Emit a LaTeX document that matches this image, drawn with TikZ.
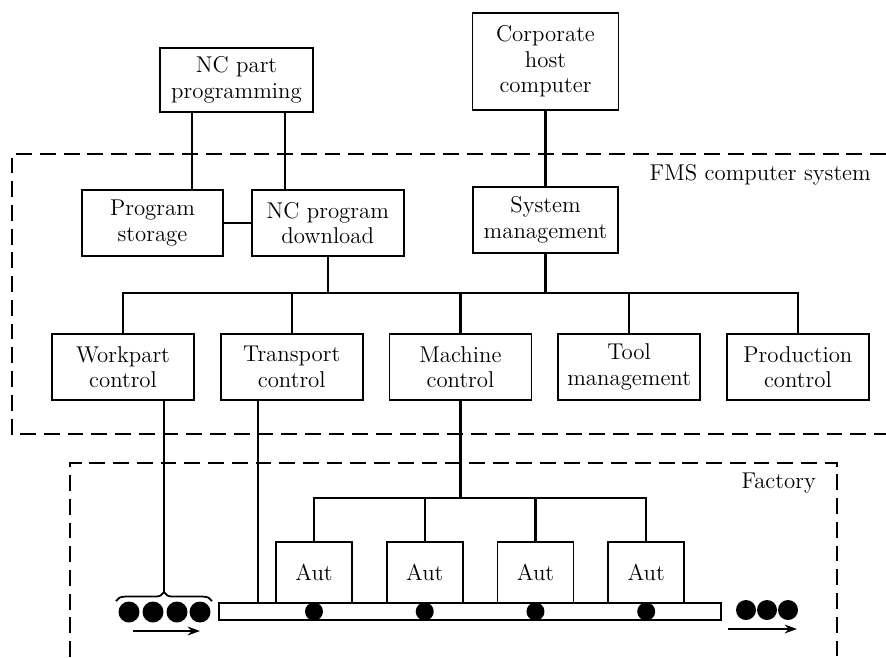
\documentclass[tikz,border=0pt]{standalone}
\usetikzlibrary{positioning,arrows.meta,decorations.pathreplacing}

\begin{document}
\begin{tikzpicture}[x=0.02cm,y=-0.02cm,
    font=\fontsize{13}{14.5}\selectfont,
    box/.style={draw,line width=1pt,fill=white,align=center,inner sep=2pt,
                minimum width=2.84cm,minimum height=1.32cm},
    autbox/.style={box,minimum width=1.52cm,minimum height=1.22cm},
    ln/.style={draw,line width=1.3pt},
    frame/.style={draw,line width=0.9pt,dash pattern=on 9pt off 4.5pt},
    part/.style={circle,fill=black,inner sep=0pt,minimum size=0.42cm},
    roller/.style={part,minimum size=0.36cm},
    ar/.style={-{Stealth[length=7pt,width=5pt]},line width=1.1pt}]
    \useasboundingbox (0,0) rectangle (886,657);
    % region frames
    \draw[frame] (886,154) -| (12,434) -- (886,434);
    \draw[frame] (70,657) |- (837,463) -- (837,657);
    \node[anchor=east] (fmslabel)  at (877,175) {FMS computer system};
    \node[anchor=east] (factlabel) at (822,483) {Factory};
    % computer boxes
    \node[box,minimum width=3.06cm,minimum height=1.28cm] (ncpart) at (236.5,80) {NC part\\programming};
    \node[box,minimum width=2.92cm,minimum height=1.94cm] (corp) at (545.5,61.5) {Corporate\\host\\computer};
    \node[box,minimum width=2.82cm] (storage) at (152.5,223) {Program\\storage};
    \node[box,minimum width=3.04cm,right=5.4mm of storage] (download) {NC program\\download};
    \node[box,minimum width=2.9cm] (sysmgmt) at (545.5,220) {System\\management};
    \node[box] (workpart) at (123,367) {Workpart\\control};
    \node[box,right=5mm of workpart]  (transport)  {Transport\\control};
    \node[box,right=5mm of transport] (machine)    {Machine\\control};
    \node[box,right=5mm of machine]   (tool)       {Tool\\management};
    \node[box,right=5mm of tool]      (production) {Production\\control};
    % factory
    \node[autbox] (aut1) at (314,572.5) {Aut};
    \node[autbox,right=6.6mm of aut1] (aut2) {Aut};
    \node[autbox,right=6.6mm of aut2] (aut3) {Aut};
    \node[autbox,right=6.6mm of aut3] (aut4) {Aut};
    \node[draw,line width=1pt,inner sep=0pt,minimum width=10.04cm,minimum height=0.34cm] (conv) at (470,611.5) {};
    \foreach \i in {1,...,4}
      \node[roller] (roller\i) at (aut\i |- conv) {};
    \foreach \i/\x in {1/129,2/153,3/177,4/200}
      \node[part] (in\i) at (\x,612) {};
    \foreach \i/\x in {1/746,2/767,3/788}
      \node[part,minimum size=0.4cm] (out\i) at (\x,610) {};
    \coordinate (bus)    at (0,293);
    \coordinate (autbus) at (0,498);
    \coordinate (pl)     at (192,0);
    \coordinate (pr)     at (285,0);
    \coordinate (trx)    at (258,0);
    \coordinate (wpdrop) at (164,592);
    \coordinate (inA)  at (133,631);
    \coordinate (inB)  at (200,631);
    \coordinate (outA) at (728,629);
    \coordinate (outB) at (797,629);
    % connections
    \draw[ln] (ncpart.south -| pl) -- (storage.north -| pl);
    \draw[ln] (ncpart.south -| pr) -- (download.north -| pr);
    \draw[ln] (storage) -- (download);
    \draw[ln] (corp) -- (sysmgmt);
    \draw[ln] (download.south) -- (download.south |- bus);
    \draw[ln] (sysmgmt) -- (sysmgmt |- bus);
    \draw[ln] (workpart.north) |- (bus -| production.north) -- (production.north);
    \foreach \n in {transport,machine,tool}
      \draw[ln] (\n.north) -- (\n.north |- bus);
    \draw[ln] (workpart.south -| wpdrop) -- (wpdrop);
    \draw[line width=1pt,decorate,decoration={brace,amplitude=5pt}] (116,601) -- (212,601);
    \draw[ln] (transport.south -| trx) -- (conv.north -| trx);
    \draw[ln] (machine.south) -- (machine.south |- autbus);
    \draw[ln] (aut1.north) |- (autbus -| aut4.north) -- (aut4.north);
    \foreach \i in {2,3}
      \draw[ln] (aut\i.north) -- (aut\i.north |- autbus);
    \draw[ar] (inA) -- (inB);
    \draw[ar] (outA) -- (outB);
  \end{tikzpicture}
\end{document}
